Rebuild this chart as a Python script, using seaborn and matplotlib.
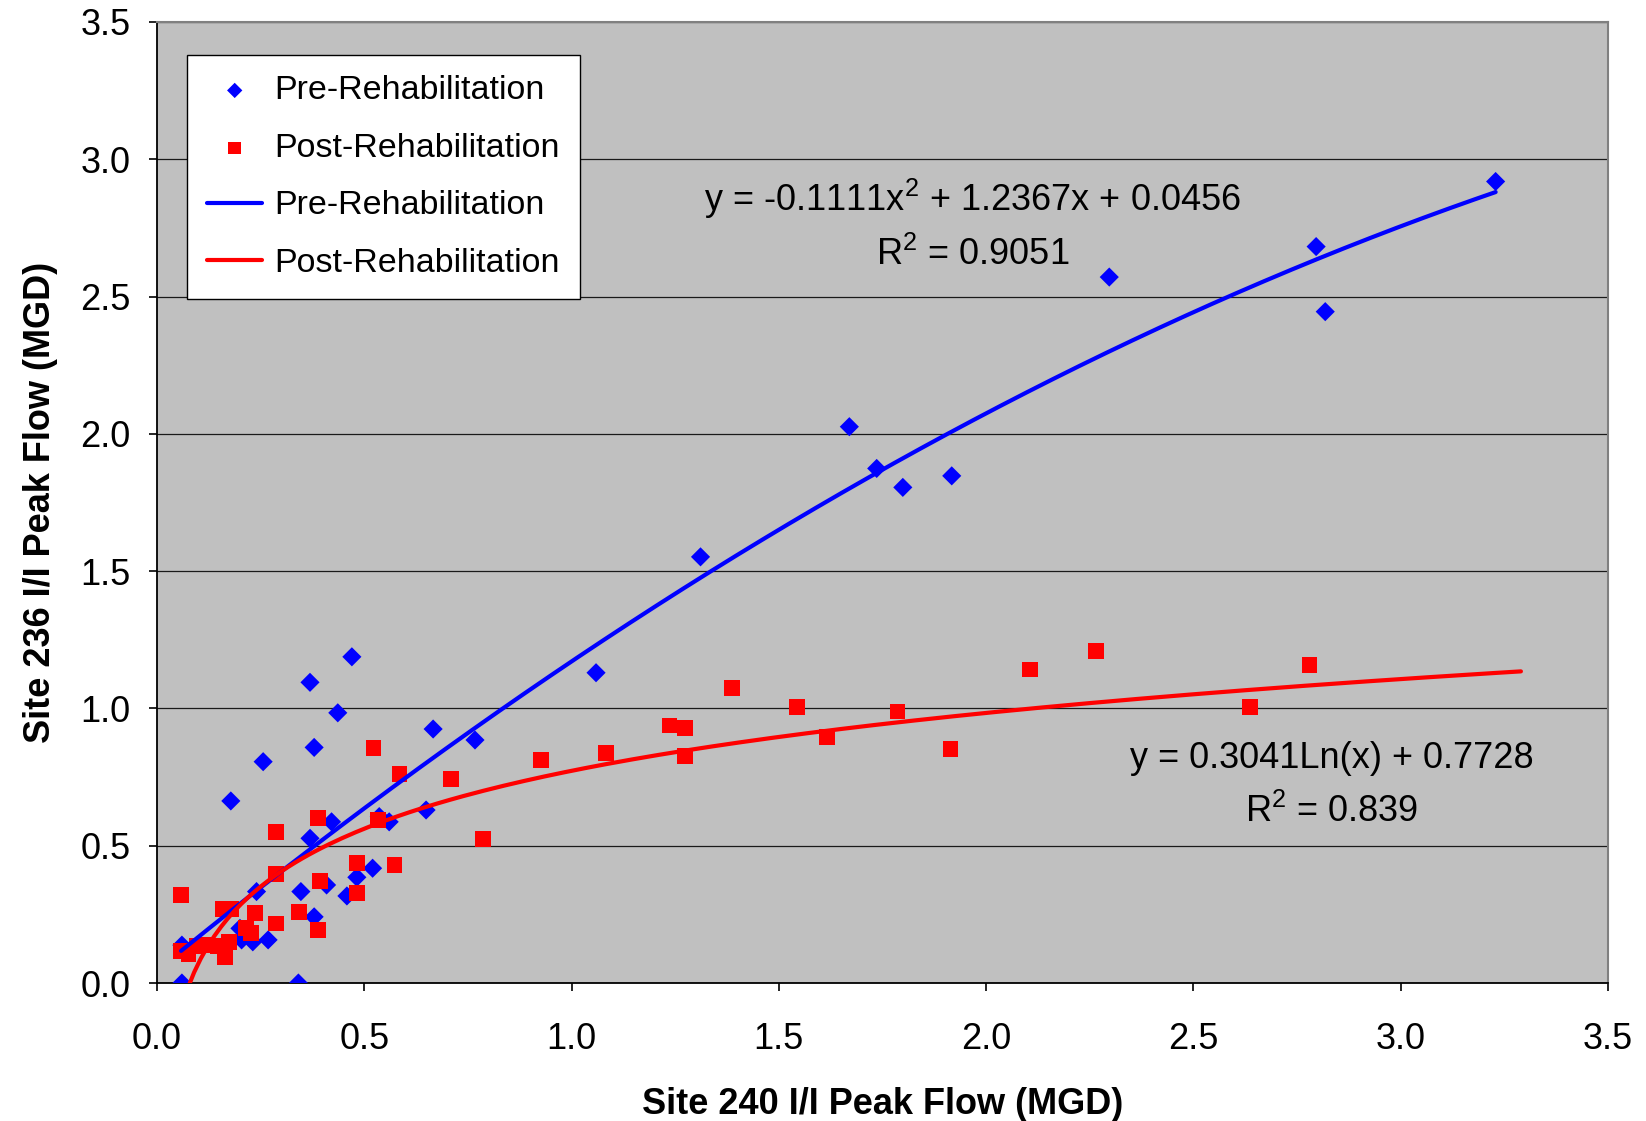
import numpy as np
import pandas as pd
import seaborn as sns
import matplotlib.pyplot as plt

# Pre-rehabilitation points (Site 240 vs Site 236 I/I peak flow, MGD)
pre_x = [3.229, 2.796, 2.818, 2.297, 1.670, 1.736, 1.799, 1.917, 1.311, 1.059,
         0.767, 0.666, 0.649, 0.470, 0.369, 0.436, 0.379, 0.256, 0.178, 0.421,
         0.369, 0.536, 0.560, 0.520, 0.482, 0.458, 0.409, 0.347, 0.379, 0.240,
         0.200, 0.204, 0.231, 0.268, 0.060, 0.060, 0.341]
pre_y = [2.919, 2.682, 2.445, 2.571, 2.026, 1.874, 1.805, 1.847, 1.552, 1.130,
         0.885, 0.925, 0.630, 1.188, 1.095, 0.984, 0.858, 0.806, 0.663, 0.587,
         0.527, 0.606, 0.587, 0.418, 0.385, 0.317, 0.357, 0.333, 0.241, 0.333,
         0.199, 0.157, 0.150, 0.157, 0.138, 0.0, 0.0]

# Post-rehabilitation points
post_x = [2.780, 2.265, 2.106, 2.636, 1.914, 1.786, 1.617, 1.544, 1.387, 1.236,
          1.274, 1.274, 1.083, 0.926, 0.787, 0.709, 0.585, 0.522, 0.573, 0.534,
          0.389, 0.393, 0.483, 0.483, 0.287, 0.287, 0.287, 0.343, 0.389, 0.236,
          0.215, 0.226, 0.160, 0.178, 0.174, 0.164, 0.057, 0.057, 0.076, 0.096,
          0.120, 0.148]
post_y = [1.159, 1.210, 1.142, 1.006, 0.853, 0.989, 0.897, 1.006, 1.074, 0.938,
          0.930, 0.828, 0.839, 0.812, 0.524, 0.743, 0.761, 0.855, 0.430, 0.594,
          0.600, 0.373, 0.438, 0.329, 0.549, 0.397, 0.217, 0.260, 0.193, 0.254,
          0.199, 0.183, 0.268, 0.268, 0.150, 0.094, 0.320, 0.118, 0.106, 0.135,
          0.138, 0.135]

# trend lines as printed on the chart
pre_coef = [-0.1111, 1.2367, 0.0456]   # polynomial, order 2
pre_r2 = 0.9051
post_coef = [0.3041, 0.7728]           # a*ln(x) + b
post_r2 = 0.839
pre_span = [0.058, 3.229]
post_span = [0.057, 3.29]

ticks = [0.0, 0.5, 1.0, 1.5, 2.0, 2.5, 3.0, 3.5]

sns.set_style('ticks')
plt.rcParams['font.family'] = ['Liberation Sans', 'DejaVu Sans']
plt.rcParams['mathtext.fontset'] = 'custom'
plt.rcParams['mathtext.rm'] = 'Liberation Sans'
plt.rcParams['mathtext.it'] = 'Liberation Sans'
plt.rcParams['text.color'] = 'black'
plt.rcParams['axes.labelcolor'] = 'black'
plt.rcParams['xtick.color'] = 'black'
plt.rcParams['ytick.color'] = 'black'

fig = plt.figure(figsize=(16.46, 11.21), dpi=100)
ax = fig.add_axes([0.0954, 0.1231, 0.8815, 0.8573])
ax.set_facecolor('#C0C0C0')

pre = pd.DataFrame({'x': pre_x, 'y': pre_y})
post = pd.DataFrame({'x': post_x, 'y': post_y})

xs_pre = np.linspace(pre_span[0], pre_span[1], 200)
fit_pre = pd.DataFrame({'x': xs_pre, 'y': np.polyval(pre_coef, xs_pre)})
xs_post = np.linspace(post_span[0], post_span[1], 200)
fit_post = pd.DataFrame({'x': xs_post,
                         'y': post_coef[0] * np.log(xs_post) + post_coef[1]})

sns.scatterplot(data=pre, x='x', y='y', marker='D', s=95, color='#0000FF',
                edgecolor='none', linewidth=0, label='Pre-Rehabilitation',
                ax=ax, zorder=3)
sns.scatterplot(data=post, x='x', y='y', marker='s', s=130, color='#FF0000',
                edgecolor='none', linewidth=0, label='Post-Rehabilitation',
                ax=ax, zorder=3)
sns.lineplot(data=fit_pre, x='x', y='y', color='#0000FF', lw=3,
             sort=False, label='Pre-Rehabilitation', ax=ax, zorder=4)
sns.lineplot(data=fit_post, x='x', y='y', color='#FF0000', lw=3,
             sort=False, label='Post-Rehabilitation', ax=ax, zorder=4)

ax.set_xlim(0, 3.5)
ax.set_ylim(0, 3.5)
ax.set_xticks(ticks)
ax.set_yticks(ticks)
ax.set_xticklabels([f'{t:.1f}' for t in ticks])
ax.set_yticklabels([f'{t:.1f}' for t in ticks])
ax.tick_params(axis='both', labelsize=26, direction='out', length=6,
               width=1.2, color='black')
ax.tick_params(axis='x', pad=22)
ax.tick_params(axis='y', pad=13)

ax.yaxis.grid(True, color='#1a1a1a', lw=0.9)
ax.xaxis.grid(False)
ax.set_axisbelow(True)

for s in ['left', 'bottom']:
    ax.spines[s].set_color('black')
    ax.spines[s].set_linewidth(1.3)
for s in ['top', 'right']:
    ax.spines[s].set_color('#808080')
    ax.spines[s].set_linewidth(1.5)

ax.set_xlabel('Site 240 I/I Peak Flow (MGD)', fontsize=26, fontweight='bold',
              labelpad=22)
ax.set_ylabel('Site 236 I/I Peak Flow (MGD)', fontsize=26, fontweight='bold',
              labelpad=16)

ax.text(1.968, 2.854, 'y = -0.1111x$^2$ + 1.2367x + 0.0456', fontsize=26,
        ha='center', va='center')
ax.text(1.968, 2.651, f'R$^2$ = {pre_r2}', fontsize=26, ha='center', va='center')
ax.text(2.834, 0.819, 'y = 0.3041Ln(x) + 0.7728', fontsize=26,
        ha='center', va='center')
ax.text(2.834, 0.624, f'R$^2$ = {post_r2}', fontsize=26, ha='center', va='center')

leg = ax.legend(loc='upper left', bbox_to_anchor=(0.0207, 0.9657),
                borderaxespad=0, fontsize=24.5, frameon=True, fancybox=False,
                edgecolor='black', framealpha=1, labelspacing=0.78,
                handlelength=1.6, handletextpad=0.35, borderpad=0.6,
                markerscale=0.8)
leg.get_frame().set_linewidth(1.0)

plt.savefig('out.png', dpi=100)
plt.close()
